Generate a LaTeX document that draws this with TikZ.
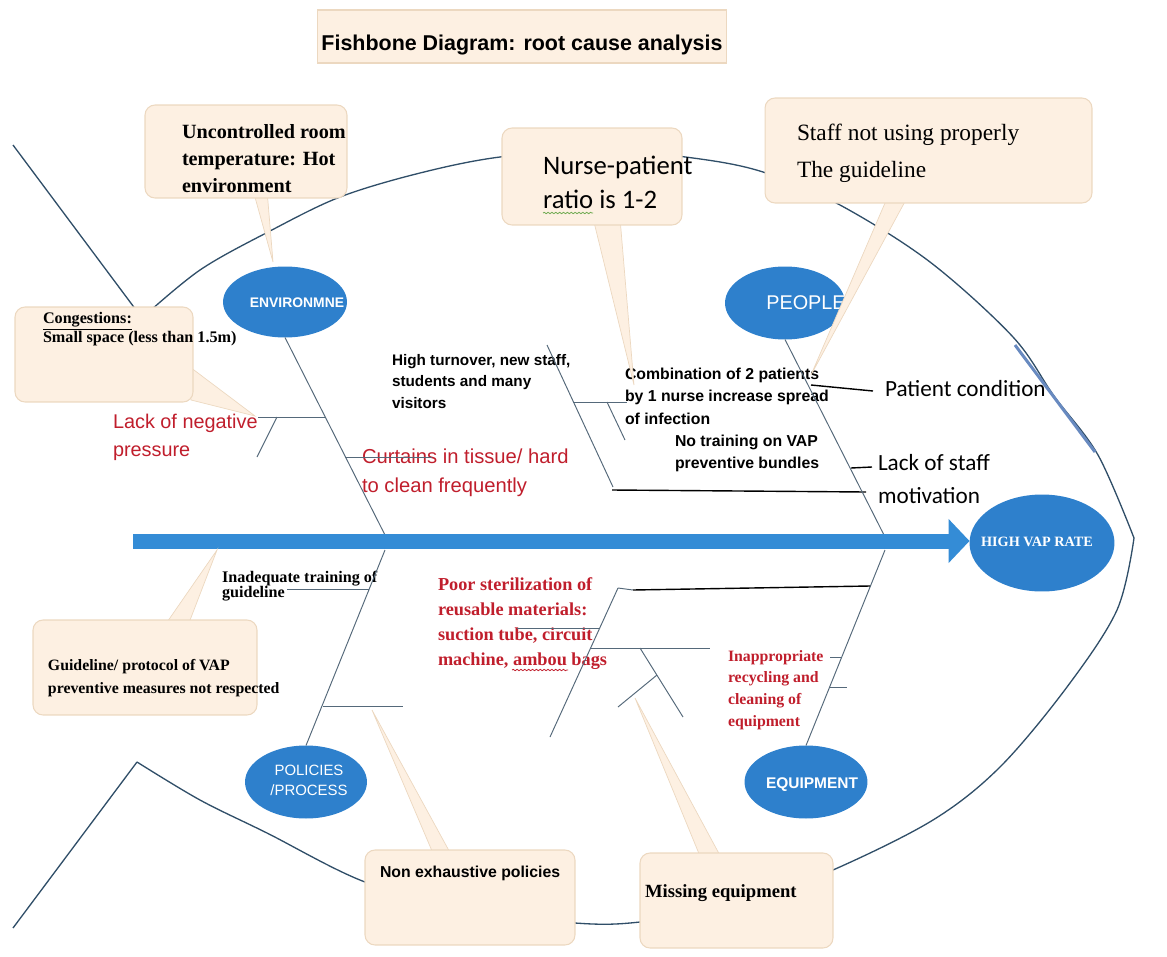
\documentclass[tikz,border=0pt]{standalone}
\usepackage{fontspec}
\setmainfont{Liberation Sans}
\newfontfamily\serf{Liberation Serif}
\newfontfamily\calib{Carlito}
\usetikzlibrary{positioning, shapes.geometric, arrows.meta, calc, decorations.pathmorphing}

\definecolor{fishblue}{RGB}{46,128,204}
\definecolor{spineblue}{RGB}{52,140,214}
\definecolor{bonegray}{RGB}{85,105,122}
\definecolor{fishline}{RGB}{48,78,104}
\definecolor{segblue}{RGB}{104,138,192}
\definecolor{causered}{RGB}{192,30,44}
\definecolor{boxfill}{RGB}{253,240,226}
\definecolor{boxline}{RGB}{236,216,192}
\definecolor{spellgreen}{RGB}{110,170,80}

\newcommand{\fsz}[2]{\fontsize{#1pt}{#2pt}\selectfont}

\pgfdeclarelayer{tips}
\pgfdeclarelayer{boxes}
\pgfsetlayers{main,tips,boxes}

\begin{document}
\begin{tikzpicture}[x=0.02cm, y=-0.02cm,
    every node/.style={inner sep=0pt, outer sep=0pt, align=left},
    outline/.style={draw=fishline, line width=0.75pt},
    bone/.style={draw=bonegray, line width=0.55pt},
    darkbone/.style={draw=black, line width=0.8pt},
    cat/.style 2 args={ellipse, fill=fishblue, minimum width=#1, minimum height=#2},
    callbox/.style 2 args={rectangle, draw=boxline, fill=boxfill, line width=0.6pt,
        rounded corners=0.2cm, minimum width=#1, minimum height=#2},
    tip/.style={fill=boxfill, draw=boxline, line width=0.4pt},
    wavy/.style={decorate, decoration={snake, amplitude=0.4pt, segment length=2.2pt}, line width=0.45pt},
    redtxt/.style={text=causered}
  ]
\useasboundingbox (0,0) rectangle (1167,957);

% fish body
\draw[outline] (13,145) -- (142,318);
\draw[outline] (137,762) -- (13,928);
\draw[outline] plot[smooth, tension=0.55] coordinates {(142,318) (200,270) (270,231) (340,197)
    (420,173) (500,157) (600,150) (693,158) (763,172) (840,205) (930,262) (1013,337) (1054,396)
    (1098,455) (1134,538)};
\draw[outline] plot[smooth, tension=0.55] coordinates {(1134,538) (1117,610) (1067,687)
    (1000,767) (933,820) (833,870) (740,905) (640,922) (575,923) (470,910) (365,882) (267,833)
    (200,800) (137,762)};
\draw[segblue, line width=1.7pt] (1015,345) -- (1095,452);

% cause labels (anchored at the baseline of their last line)
\node[redtxt, font=\fsz{11.3}{15.9}, anchor=base west] (lackNeg) at (113,456) {Lack of negative\\pressure};
\node[redtxt, font=\fsz{11.5}{16.4}, anchor=base west] (curtain) at (362,492) {Curtains in tissue/ hard\\to clean frequently};
\node[font=\bfseries\fsz{8.7}{12.2}, anchor=base west] (turnover) at (392,408) {High turnover, new staff,\\students and many\\visitors};
\node[font=\bfseries\fsz{9}{12.6}, anchor=base west] (combo) at (625,424) {Combination of 2 patients\\by 1 nurse increase spread\\of infection};
\node[font=\bfseries\fsz{9}{12.2}, anchor=base west] (noTrain) at (675,468) {No training on VAP\\preventive bundles};
\node[font=\calib\fsz{13.2}{18.7}, anchor=base west] (patCond) at (885,396) {Patient condition};
\node[font=\calib\fsz{13.2}{18.7}, anchor=base west] (motiv) at (878,503) {Lack of staff\\motivation};
\node[font={\serf\bfseries\fsz{9.2}{8.4}\lineskiplimit=-5pt}, anchor=base west] (inadeq) at (222,597) {Inadequate training of\\guideline};
\node[redtxt, font=\serf\bfseries\fsz{10.4}{14.2}, anchor=base west] (poorSter) at (438,665) {Poor sterilization of\\reusable materials:\\suction tube, circuit\\machine, ambou bags};
\node[redtxt, font=\serf\bfseries\fsz{9}{12.3}, anchor=base west] (inappr) at (728,726) {Inappropriate\\recycling and\\cleaning of\\equipment};
\draw[wavy, causered] ($(poorSter.base west)+(74,5)$) -- ($(poorSter.base west)+(130,5)$);

% junctions
\coordinate (envB) at (385,535);   \coordinate (peoB) at (885,537);
\coordinate (polB) at (385,550);   \coordinate (eqB) at (885,550);
\coordinate (negJ) at (325,417);   \coordinate (negT) at (277,417);   \coordinate (negE) at (257,457);
\coordinate (curJ) at (345,457);   \coordinate (curE) at (432,457);
\coordinate (turnTop) at (547,345); \coordinate (turnBot) at (613,487);
\coordinate (turnJ) at (573,402);  \coordinate (turnE) at (627,402);
\coordinate (turnT) at (607,402);  \coordinate (turnTE) at (625,440);
\coordinate (blkA) at (612,490);   \coordinate (blkB) at (866,492);
\coordinate (condJ) at (811,385);  \coordinate (condE) at (873,391);
\coordinate (motJ) at (851,468);   \coordinate (motE) at (872,467);
\coordinate (inJ) at (369,589);    \coordinate (inE) at (287,589);
\coordinate (polJ) at (323,706);   \coordinate (polE) at (403,706);
\coordinate (blkC) at (633,590);   \coordinate (blkD) at (870,586);
\coordinate (eqJ1) at (841,657);   \coordinate (eqE1) at (830,657);
\coordinate (eqJ2) at (829,687);   \coordinate (eqE2) at (847,687);
\coordinate (psTop) at (618,588);  \coordinate (psBot) at (550,737);
\coordinate (psJ1) at (600,628);   \coordinate (psE1) at (517,628);
\coordinate (psJ2) at (591,648);   \coordinate (psE2) at (710,648);
\coordinate (yA) at (640,648);     \coordinate (yB) at (683,717);
\coordinate (yC) at (657,675);     \coordinate (yD) at (618,707);

% category heads
\node[cat={2.48cm}{1.42cm}] (env) at (285,302) {};
\node[cat={2.4cm}{1.46cm}] (people) at (785,303) {};
\node[cat={2.44cm}{1.46cm}] (pol) at (306,782) {};
\node[cat={2.46cm}{1.46cm}] (equip) at (806,782) {};

% bones
\draw[bone] (env.south) -- (envB);
\draw[bone] (negJ) -- (negJ -| lackNeg.east);
\draw[bone] (negT) -- (negE);
\draw[bone] (curJ) -- (curE);
\draw[bone] (turnTop) -- (turnBot);
\draw[bone] (turnJ) -- (turnE);
\draw[bone] (turnT) -- (turnTE);
\draw[darkbone] (blkA) -- (blkB);
\draw[bone] (people.south) -- (peoB);
\draw[darkbone] (condJ) -- (condE);
\draw[darkbone] (motJ) -- (motE);
\draw[bone] (polB) -- (pol.north);
\draw[bone] (inJ) -- (inE);
\draw[bone] (polJ) -- (polE);
\draw[bone] (eqB) -- (equip.north);
\draw[darkbone] (blkC) -- (blkD);
\draw[bone] (eqJ1) -- (eqE1);
\draw[bone] (eqJ2) -- (eqE2);
\draw[bone] (psTop) -- (psBot);
\draw[bone] (psTop) -- (blkC);
\draw[bone] (psJ1) -- (psE1);
\draw[bone] (psJ2) -- (psE2);
\draw[bone] (yA) -- (yB);
\draw[bone] (yC) -- (yD);

% spine and head
\coordinate (tail) at (133,541);
\node[cat={2.9cm}{1.94cm}] (vap) at (1042,543) {};
\draw[spineblue, line width=0.3cm, -{Triangle[length=0.42cm, width=0.86cm]}] (tail) -- (tail -| vap.west);
\node[text=white, font=\serf\bfseries\fsz{8.1}{9}] (vapTxt) at (1037,542) {HIGH VAP RATE};

% category names
\node[text=white, font=\bfseries\fsz{7.9}{9}] (envTxt) at (297,303) {ENVIRONMNE};
\node[text=white, font=\fsz{11.3}{13}] (peopleTxt) at (806,303) {PEOPLE};
\node[text=white, font=\fsz{8.5}{11.3}, align=center] (polTxt) at (309,780) {POLICIES\\/PROCESS};
\node[text=white, font=\bfseries\fsz{8.8}{10}] (equipTxt) at (812,785) {EQUIPMENT};

% callout pointers
\begin{pgfonlayer}{tips}
\filldraw[tip] (253,190) -- (273,262) -- (267,190) -- cycle;
\filldraw[tip] (186,364) -- (255,416) -- (191,400) -- cycle;
\filldraw[tip] (593,218) -- (634,385) -- (620,218) -- cycle;
\filldraw[tip] (888,196) -- (811,375) -- (908,196) -- cycle;
\filldraw[tip] (163,628) -- (217,550) -- (187,628) -- cycle;
\filldraw[tip] (435,858) -- (372,710) -- (453,858) -- cycle;
\filldraw[tip] (702,861) -- (635,698) -- (723,861) -- cycle;
\end{pgfonlayer}

% callout boxes
\begin{pgfonlayer}{boxes}
\node[callbox={8.2cm}{1.06cm}, sharp corners] (title) at (522,36.5) {};
\node[font=\bfseries\fsz{12.2}{14}, anchor=base] (titleTxt) at (522,50) {Fishbone Diagram: root cause analysis};
\node[callbox={4.04cm}{1.86cm}] (uncBox) at (246,151.5) {};
\node[font=\serf\bfseries\fsz{11.5}{15.3}, anchor=base west] (uncTxt) at (182,192) {Uncontrolled room\\temperature: Hot\\environment};
\node[callbox={3.56cm}{1.9cm}] (congBox) at (104,354.5) {};
\node[font=\serf\bfseries\fsz{9.2}{10.8}, anchor=base west] (congTxt) at (43,342) {\underline{Congestions:}\\Small space (less than 1.5m)};
\node[callbox={3.6cm}{1.94cm}] (nurseBox) at (592,176.5) {};
\node[font=\calib\fsz{15.2}{19.3}, anchor=base west] (nurseTxt) at (543,208) {Nurse-patient\\ratio is 1-2};
\draw[wavy, spellgreen] ($(nurseTxt.base west)+(0,5)$) -- ($(nurseTxt.base west)+(50,5)$);
\node[callbox={6.54cm}{2.1cm}] (staffBox) at (928.5,150.5) {};
\node[font=\serf\fsz{13.3}{21}, anchor=base west] (staffTxt) at (797,177) {Staff not using properly\\The guideline};
\node[callbox={4.48cm}{1.9cm}] (guideBox) at (145,667.5) {};
\node[font=\serf\bfseries\fsz{9}{13}, anchor=base west] (guideTxt) at (48,693) {Guideline/ protocol of VAP\\preventive measures not respected};
\node[callbox={4.2cm}{1.9cm}] (nonBox) at (470,897.5) {};
\node[font=\bfseries\fsz{9}{11}, anchor=base west] (nonTxt) at (380,877) {Non exhaustive policies};
\node[callbox={3.86cm}{1.9cm}] (missBox) at (736.5,900.5) {};
\node[font=\serf\bfseries\fsz{10.6}{12}, anchor=base west] (missTxt) at (645,897) {Missing equipment};
\end{pgfonlayer}
\end{tikzpicture}
\end{document}
